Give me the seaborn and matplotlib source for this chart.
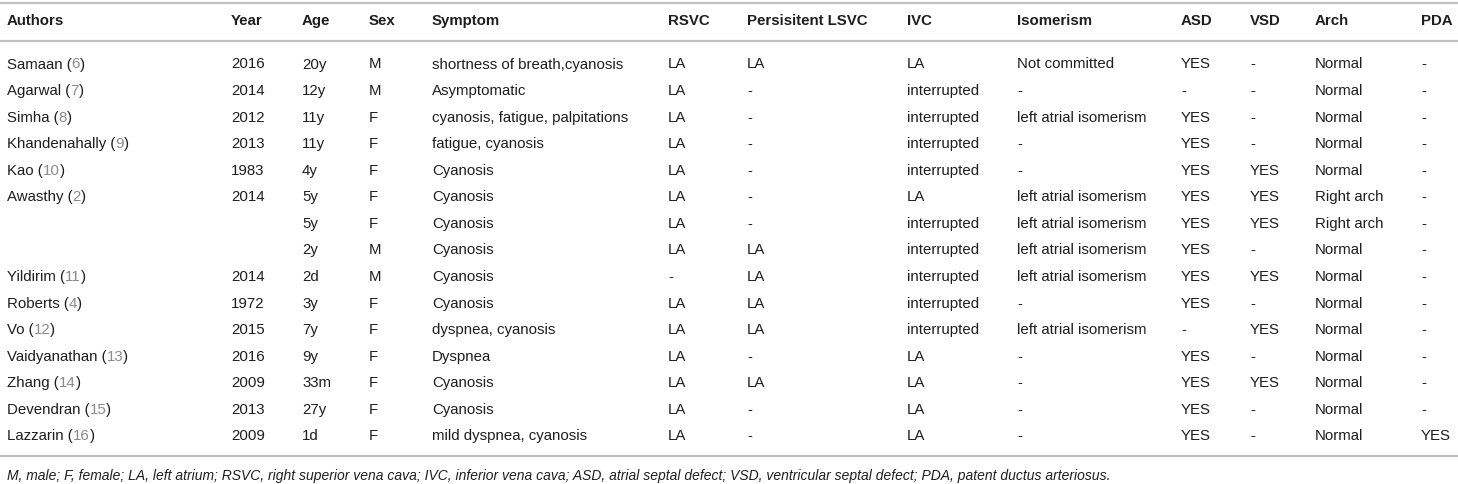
import matplotlib
matplotlib.use("Agg")
import matplotlib.pyplot as plt
import seaborn as sns

columns = ["Authors", "Year", "Age", "Sex", "Symptom", "RSVC", "Persisitent LSVC",
           "IVC", "Isomerism", "ASD", "VSD", "Arch", "PDA"]

authors = ["Samaan", "Agarwal", "Simha", "Khandenahally", "Kao", "Awasthy", "", "",
           "Yildirim", "Roberts", "Vo", "Vaidyanathan", "Zhang", "Devendran", "Lazzarin"]
refs = ["6", "7", "8", "9", "10", "2", "", "", "11", "4", "12", "13", "14", "15", "16"]
years = ["2016", "2014", "2012", "2013", "1983", "2014", "", "", "2014", "1972", "2015",
         "2016", "2009", "2013", "2009"]
ages = ["20y", "12y", "11y", "11y", "4y", "5y", "5y", "2y", "2d", "3y", "7y", "9y",
        "33m", "27y", "1d"]
sexes = ["M", "M", "F", "F", "F", "F", "F", "M", "M", "F", "F", "F", "F", "F", "F"]
symptoms = ["shortness of breath,cyanosis", "Asymptomatic", "cyanosis, fatigue, palpitations",
            "fatigue, cyanosis", "Cyanosis", "Cyanosis", "Cyanosis", "Cyanosis", "Cyanosis",
            "Cyanosis", "dyspnea, cyanosis", "Dyspnea", "Cyanosis", "Cyanosis",
            "mild dyspnea, cyanosis"]
rsvc = ["LA", "LA", "LA", "LA", "LA", "LA", "LA", "LA", "-", "LA", "LA", "LA", "LA", "LA", "LA"]
lsvc = ["LA", "-", "-", "-", "-", "-", "-", "LA", "LA", "LA", "LA", "-", "LA", "-", "-"]
ivc = ["LA", "interrupted", "interrupted", "interrupted", "interrupted", "LA", "interrupted",
       "interrupted", "interrupted", "interrupted", "interrupted", "LA", "LA", "LA", "LA"]
isomerism = ["Not committed", "-", "left atrial isomerism", "-", "-", "left atrial isomerism",
             "left atrial isomerism", "left atrial isomerism", "left atrial isomerism", "-",
             "left atrial isomerism", "-", "-", "-", "-"]
asd = ["YES", "-", "YES", "YES", "YES", "YES", "YES", "YES", "YES", "YES", "-", "YES",
       "YES", "YES", "YES"]
vsd = ["-", "-", "-", "-", "YES", "YES", "YES", "-", "YES", "-", "YES", "-", "YES", "-", "-"]
arch = ["Normal", "Normal", "Normal", "Normal", "Normal", "Right arch", "Right arch", "Normal",
        "Normal", "Normal", "Normal", "Normal", "Normal", "Normal", "Normal"]
pda = ["-", "-", "-", "-", "-", "-", "-", "-", "-", "-", "-", "-", "-", "-", "YES"]

footnote = ("M, male; F, female; LA, left atrium; RSVC, right superior vena cava; IVC, inferior "
            "vena cava; ASD, atrial septal defect; VSD, ventricular septal defect; PDA, patent "
            "ductus arteriosus.")

# left edge of each column, in pixels
col_x = [7, 231, 302, 369, 432, 668, 747, 907, 1017, 1181, 1250, 1315, 1421]

sns.set_theme(style="white")
plt.rcParams["font.family"] = ["Liberation Sans", "DejaVu Sans"]

W, H = 1458, 484
fig = plt.figure(figsize=(W / 100, H / 100), dpi=100)
ax = fig.add_axes([0, 0, 1, 1])
ax.set_xlim(0, W)
ax.set_ylim(H, 0)
ax.axis("off")

txt = "#1e1e1e"
grey = "#8a8a8a"
line_c = "#c0c0c0"
fs = 10.8

# rules
for y in [3, 40.5, 456]:
    ax.plot([0, W], [y, y], color=line_c, lw=1.6, solid_capstyle="butt")

for x, name in zip(col_x, columns):
    ax.text(x, 21, name, fontsize=fs, fontweight="bold", color=txt, va="center", ha="left")

row_y0, row_dy = 64.5, 26.57
body = [years, ages, sexes, symptoms, rsvc, lsvc, ivc, isomerism, asd, vsd, arch, pda]
for i in range(len(ages)):
    y = row_y0 + i * row_dy
    if authors[i]:
        t = ax.text(col_x[0], y, authors[i] + " (", fontsize=fs, color=txt, va="center")
        t2 = ax.annotate(refs[i], xy=(1, 0), xycoords=t, fontsize=fs, color=grey,
                         va="bottom", ha="left")
        ax.annotate(")", xy=(1, 0), xycoords=t2, fontsize=fs, color=txt,
                    va="bottom", ha="left")
    for x, col in zip(col_x[1:], body):
        ax.text(x, y, col[i], fontsize=fs, color=txt, va="center", ha="left")

ax.text(col_x[0], 476, footnote, fontsize=10.0, style="italic", color=txt,
        va="center", ha="left")

fig.savefig("out.png", dpi=100)
